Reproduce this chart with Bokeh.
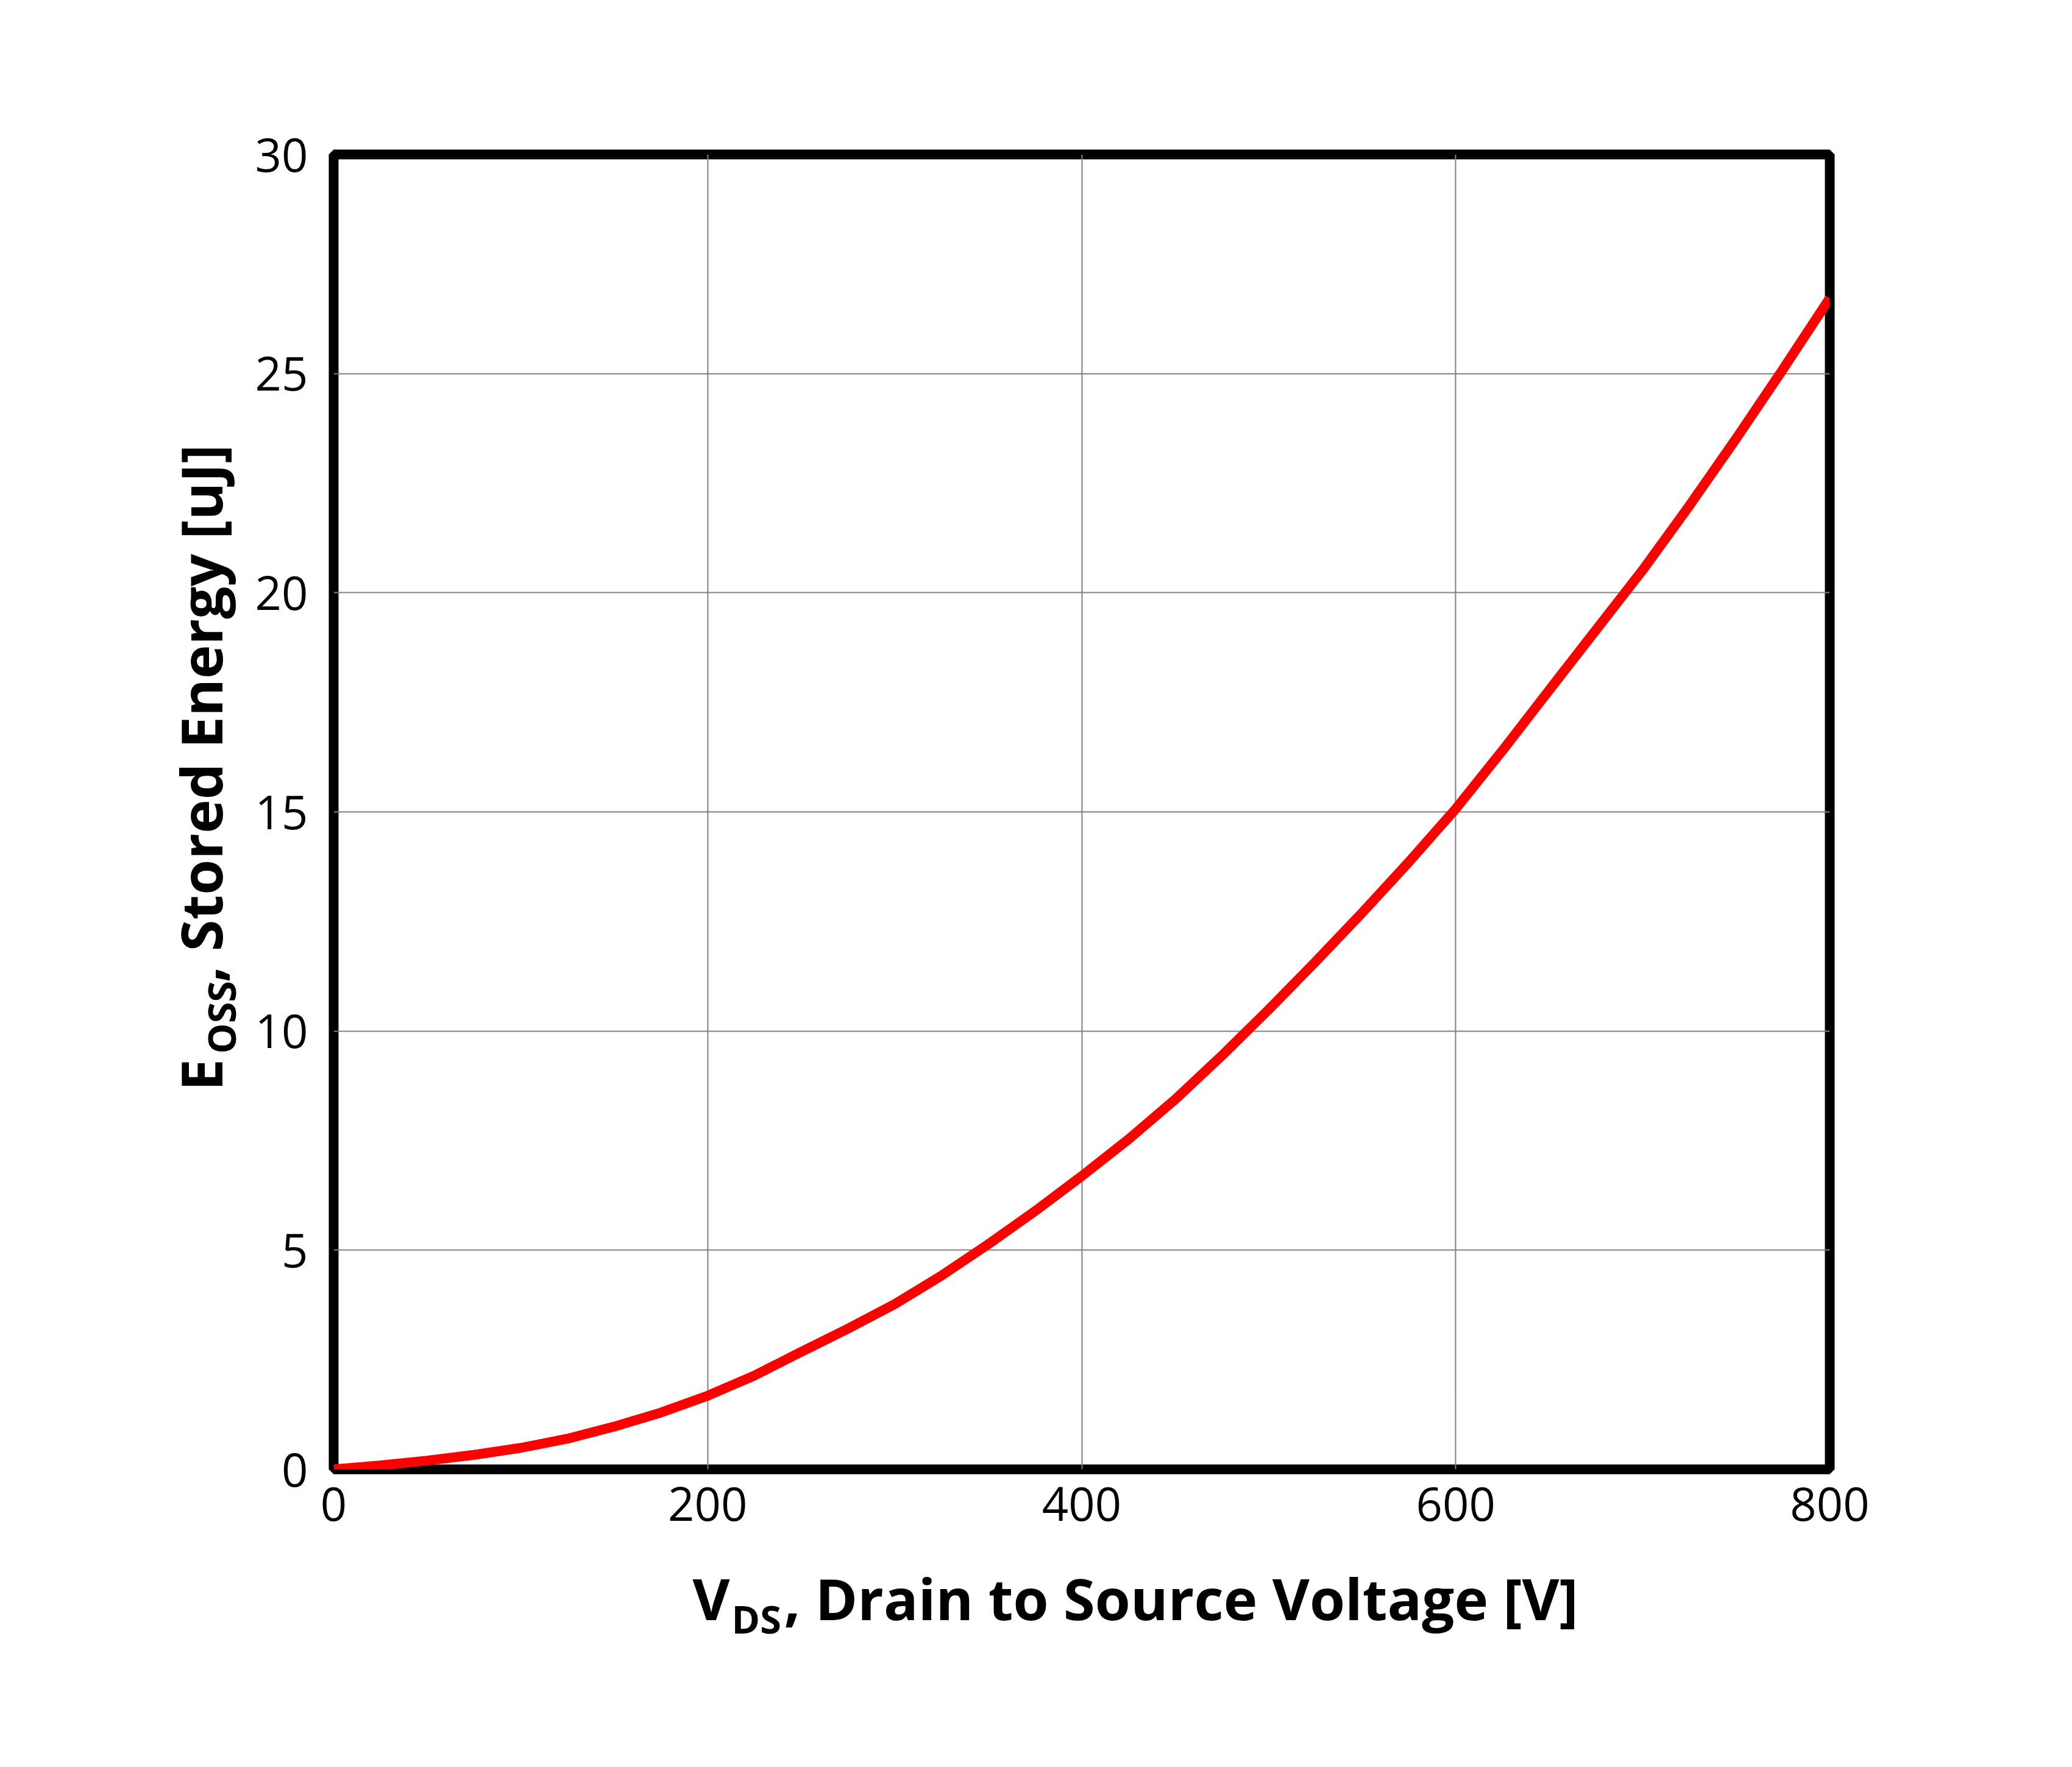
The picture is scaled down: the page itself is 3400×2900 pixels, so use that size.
from bokeh.plotting import figure
from bokeh.models import Label, Range1d, FixedTicker
from bokeh.embed import file_html
from bokeh.resources import INLINE

# Output stored energy vs. drain-source voltage
vds = [0, 25, 50, 75, 100, 125, 150, 175, 200, 225, 250, 275, 300, 325, 350,
       375, 400, 425, 450, 475, 500, 525, 550, 575, 600, 625, 650, 675, 700,
       725, 750, 775, 800]
eoss = [0.0, 0.09, 0.20, 0.33, 0.49, 0.70, 0.975, 1.295, 1.68, 2.14, 2.68,
        3.21, 3.77, 4.42, 5.135, 5.89, 6.69, 7.53, 8.44, 9.44, 10.49, 11.58,
        12.70, 13.86, 15.07, 16.40, 17.78, 19.15, 20.52, 21.99, 23.52, 25.10,
        26.72]

x_ticks = [0, 200, 400, 600, 800]
y_ticks = [0, 5, 10, 15, 20, 25, 30]

FONT = "Open Sans"
W, H = 3400, 2900
B_LEFT, B_RIGHT, B_TOP, B_BOTTOM = 547, 398, 253, 489
X0, X1, Y0, Y1 = 0, 800, 0, 30

frame_w = W - B_LEFT - B_RIGHT
frame_h = H - B_TOP - B_BOTTOM


def xd(px):
    # canvas pixel column -> data x
    return X0 + (px - B_LEFT) * (X1 - X0) / frame_w


def yd(py):
    # canvas pixel row -> data y
    return Y0 + (H - B_BOTTOM - py) * (Y1 - Y0) / frame_h


p = figure(width=W, height=H, x_range=Range1d(X0, X1), y_range=Range1d(Y0, Y1),
           output_backend="svg", toolbar_location=None,
           min_border_left=B_LEFT, min_border_right=B_RIGHT,
           min_border_top=B_TOP, min_border_bottom=B_BOTTOM)

p.background_fill_color = "white"
p.border_fill_color = "white"
p.outline_line_color = "black"
p.outline_line_width = 16

for ax, ticks in ((p.xaxis, x_ticks), (p.yaxis, y_ticks)):
    ax.ticker = FixedTicker(ticks=ticks)
    ax.axis_line_color = None
    ax.major_tick_line_color = None
    ax.minor_tick_line_color = None
    ax.major_label_text_font = FONT
    ax.major_label_text_font_size = "76px"
    ax.major_label_text_color = "black"
p.xaxis.major_label_standoff = 22
p.yaxis.major_label_standoff = 36

p.xgrid.ticker = FixedTicker(ticks=x_ticks)
p.ygrid.ticker = FixedTicker(ticks=y_ticks)
for g in (p.xgrid, p.ygrid):
    g.grid_line_color = "#808080"
    g.grid_line_width = 2

p.line(vds, eoss, line_color="#ff0000", line_width=16)


def add_text(side, px, py, text, size, angle=0.0):
    p.add_layout(Label(x=xd(px), y=yd(py), text=text, angle=angle,
                       text_font=FONT, text_font_style="bold",
                       text_font_size=f"{size}px", text_color="black",
                       text_align="left", text_baseline="alphabetic"), side)


# x-axis title: V_DS, Drain to Source Voltage [V]
add_text("below", 1136, 2622, "V", 94)
add_text("below", 1200, 2656, "DS", 63)
add_text("below", 1286, 2622, ", Drain to Source Voltage [V]", 94)

# y-axis title: E_OSS, Stored Energy [uJ]
ROT = 1.5707963267948966
add_text("left", 328, 1790, "E", 94, ROT)
add_text("left", 362, 1729, "OSS", 63, ROT)
add_text("left", 328, 1612, ", Stored Energy [uJ]", 94, ROT)

open("out.html", "w").write(file_html(p, INLINE))
